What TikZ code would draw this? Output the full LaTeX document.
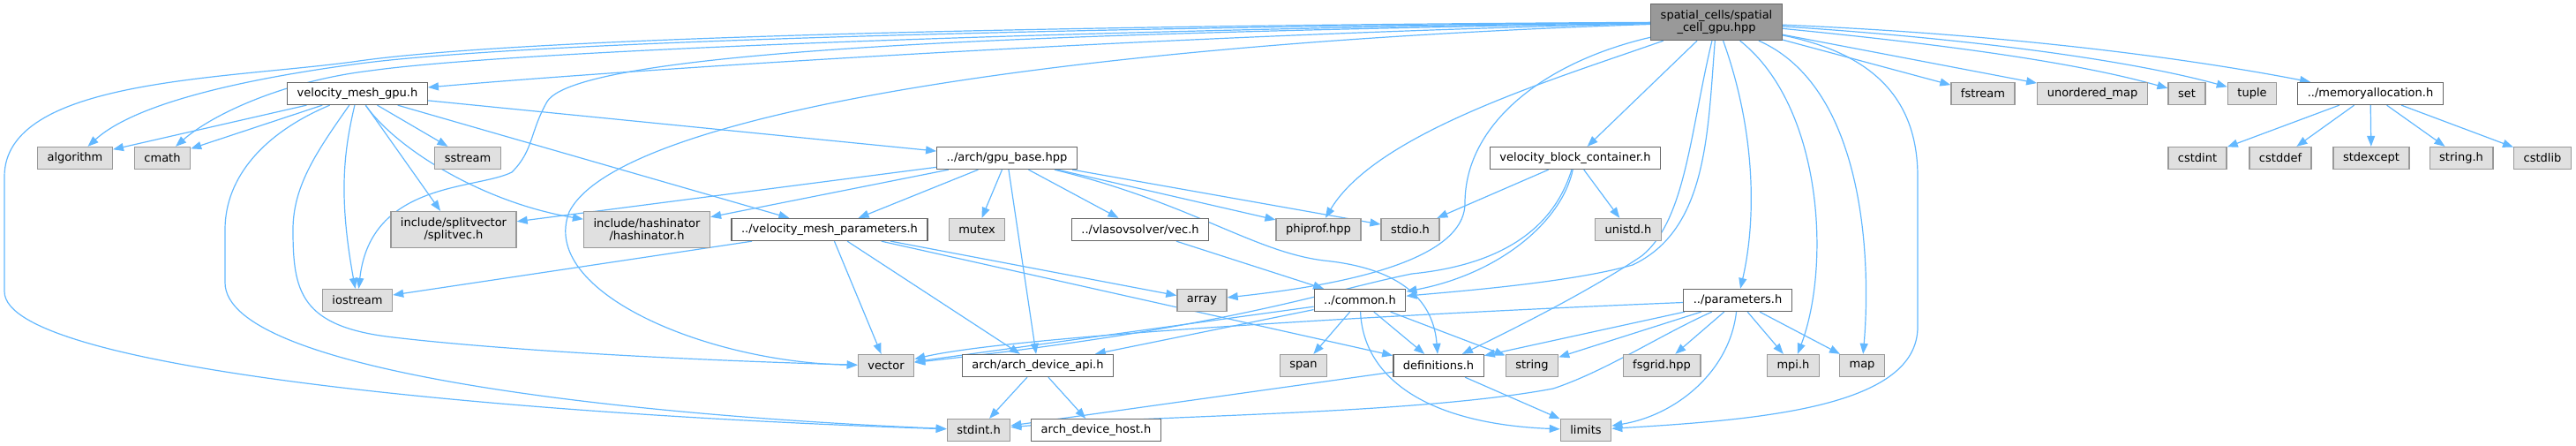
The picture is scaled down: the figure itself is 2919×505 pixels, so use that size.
\documentclass[tikz,border=0pt]{standalone}
\usepackage{fontspec}
\setmainfont{DejaVu Sans}
\usetikzlibrary{arrows.meta}
\definecolor{edgeblue}{HTML}{63B8FF}
\definecolor{frame}{HTML}{666666}
\definecolor{sysframe}{HTML}{999999}
\definecolor{sysfill}{HTML}{E0E0E0}
\definecolor{rootfill}{HTML}{999999}
\pgfdeclarelayer{background}
\pgfsetlayers{background,main}
\tikzset{
  file/.style={draw=frame, fill=white, line width=1.3pt, inner xsep=11pt, inner ysep=0pt,
    minimum height=25pt, font=\fontsize{13}{14.5}\selectfont},
  sysfile/.style={file, draw=sysframe, fill=sysfill},
  sysfile2/.style={sysfile, align=center, minimum height=41pt},
  root/.style={file, fill=rootfill, align=center, minimum height=41pt},
  dep/.style={draw=edgeblue, line width=1.2pt, -{Triangle[length=12pt,width=9pt]}}
}
\begin{document}
\begin{tikzpicture}[x=1pt,y=-1pt]
  \useasboundingbox (0,0) rectangle (2919,505);
  % files
  \node[root] (cellgpu) at (1945,25) {spatial\_cells/spatial\\\_cell\_gpu.hpp};
  \node[file] (meshgpu) at (405,106) {velocity\_mesh\_gpu.h};
  \node[sysfile] (fstream) at (2247,106) {fstream};
  \node[sysfile] (umap) at (2371,106) {unordered\_map};
  \node[sysfile] (set) at (2478,106) {set};
  \node[sysfile] (tuple) at (2552,106) {tuple};
  \node[file] (memalloc) at (2686,106) {../memoryallocation.h};

  \node[sysfile] (algorithm) at (85,179) {algorithm};
  \node[sysfile] (cmath) at (184,179) {cmath};
  \node[sysfile] (sstream) at (530,179) {sstream};
  \node[file] (gpubase) at (1141,179) {../arch/gpu\_base.hpp};
  \node[file] (blockcont) at (1785,179) {velocity\_block\_container.h};
  \node[sysfile] (cstdint) at (2490,179) {cstdint};
  \node[sysfile] (cstddef) at (2584,179) {cstddef};
  \node[sysfile] (stdexcept) at (2687,179) {stdexcept};
  \node[sysfile] (stringh) at (2789,179) {string.h};
  \node[sysfile] (cstdlib) at (2881,179) {cstdlib};

  \node[sysfile2] (splitvec) at (514,260) {include/splitvector\\/splitvec.h};
  \node[sysfile2] (hashinator) at (733,260) {include/hashinator\\/hashinator.h};
  \node[file] (meshparams) at (940,260) {../velocity\_mesh\_parameters.h};
  \node[sysfile] (mutex) at (1107,260) {mutex};
  \node[file] (vec) at (1292,260) {../vlasovsolver/vec.h};
  \node[sysfile] (phiprof) at (1494,260) {phiprof.hpp};
  \node[sysfile] (stdio) at (1598,260) {stdio.h};
  \node[sysfile] (unistd) at (1845,260) {unistd.h};

  \node[sysfile] (iostream) at (405,340) {iostream};
  \node[sysfile] (array) at (1362,340) {array};
  \node[file] (common) at (1541,340) {../common.h};
  \node[file] (params) at (1969,340) {../parameters.h};

  \node[sysfile] (vector) at (1004,414) {vector};
  \node[file] (devapi) at (1176,414) {arch/arch\_device\_api.h};
  \node[sysfile] (span) at (1477,414) {span};
  \node[file] (defs) at (1630,414) {definitions.h};
  \node[sysfile] (string) at (1736,414) {string};
  \node[sysfile] (fsgrid) at (1883,414) {fsgrid.hpp};
  \node[sysfile] (mpi) at (2032,414) {mpi.h};
  \node[sysfile] (map) at (2110,414) {map};

  \node[sysfile] (stdint) at (1109,487) {stdint.h};
  \node[file] (devhost) at (1242,487) {arch\_device\_host.h};
  \node[sysfile] (limits) at (1797,487) {limits};

  \begin{pgfonlayer}{background}
  % spatial_cell_gpu.hpp
  \draw[dep] (cellgpu) .. controls (1300,40) and (700,80) .. (meshgpu);
  \draw[dep] (cellgpu) .. controls (1300,30) and (600,45) .. (400,73) .. controls (260,92) and (150,120) .. (algorithm);
  \draw[dep] (cellgpu) .. controls (1300,32) and (600,55) .. (420,80) .. controls (320,92) and (240,130) .. (cmath);
  \draw[dep] (cellgpu) .. controls (1300,28) and (600,40) .. (400,70) .. controls (250,90) and (5,90) .. (5,200) -- (5,330) .. controls (5,420) and (600,470) .. (stdint);
  \draw[dep] (cellgpu) .. controls (1300,36) and (660,50) .. (620,115) .. controls (600,150) and (605,170) .. (580,195) .. controls (540,215) and (420,205) .. (iostream);
  \draw[dep] (cellgpu) .. controls (1200,50) and (700,130) .. (645,240) .. controls (610,330) and (800,410) .. (vector);
  \draw[dep] (cellgpu) .. controls (1760,90) and (1560,150) .. (phiprof);
  \draw[dep] (cellgpu) .. controls (1750,70) and (1660,140) .. (1660,230) .. controls (1660,300) and (1500,325) .. (array);
  \draw[dep] (cellgpu) -- (blockcont);
  \draw[dep] (cellgpu) .. controls (1935,150) and (1935,260) .. (1850,300) .. controls (1780,320) and (1650,330) .. (common);
  \draw[dep] (cellgpu) .. controls (1915,150) and (1910,250) .. (1860,290) .. controls (1800,330) and (1720,370) .. (defs);
  \draw[dep] (cellgpu) .. controls (1990,150) and (1990,250) .. (params);
  \draw[dep] (cellgpu) .. controls (2065,120) and (2075,300) .. (mpi);
  \draw[dep] (cellgpu) .. controls (2115,100) and (2120,300) .. (map);
  \draw[dep] (cellgpu) .. controls (2120,60) and (2173,110) .. (2173,200) -- (2173,370) .. controls (2173,460) and (2000,475) .. (limits);
  \draw[dep] (cellgpu) -- (fstream);
  \draw[dep] (cellgpu) -- (umap);
  \draw[dep] (cellgpu) .. controls (2200,50) and (2350,70) .. (set);
  \draw[dep] (cellgpu) .. controls (2250,45) and (2420,70) .. (tuple);
  \draw[dep] (cellgpu) .. controls (2300,40) and (2500,70) .. (memalloc);
  % velocity_mesh_gpu.h
  \draw[dep] (meshgpu) -- (algorithm);
  \draw[dep] (meshgpu) -- (cmath);
  \draw[dep] (meshgpu) -- (sstream);
  \draw[dep] (meshgpu) .. controls (300,150) and (255,200) .. (255,260) -- (255,320) .. controls (255,420) and (700,470) .. (stdint);
  \draw[dep] (meshgpu) .. controls (360,170) and (332,210) .. (332,260) .. controls (332,330) and (340,370) .. (446,382) .. controls (600,400) and (850,410) .. (vector);
  \draw[dep] (meshgpu) .. controls (390,170) and (383,220) .. (iostream);
  \draw[dep] (meshgpu) -- (splitvec);
  \draw[dep] (meshgpu) .. controls (450,170) and (550,230) .. (hashinator);
  \draw[dep] (meshgpu) -- (meshparams);
  \draw[dep] (meshgpu) -- (gpubase);
  % gpu_base.hpp
  \draw[dep] (gpubase) -- (splitvec);
  \draw[dep] (gpubase) -- (hashinator);
  \draw[dep] (gpubase) -- (meshparams);
  \draw[dep] (gpubase) -- (mutex);
  \draw[dep] (gpubase) -- (devapi);
  \draw[dep] (gpubase) -- (vec);
  \draw[dep] (gpubase) -- (phiprof);
  \draw[dep] (gpubase) -- (stdio);
  \draw[dep] (gpubase) .. controls (1350,230) and (1420,285) .. (1500,295) .. controls (1600,305) and (1625,350) .. (defs);
  % velocity_mesh_parameters.h
  \draw[dep] (meshparams) -- (iostream);
  \draw[dep] (meshparams) -- (vector);
  \draw[dep] (meshparams) -- (array);
  \draw[dep] (meshparams) -- (defs);
  \draw[dep] (meshparams) -- (devapi);
  \draw[dep] (vec) -- (common);
  % velocity_block_container.h
  \draw[dep] (blockcont) -- (stdio);
  \draw[dep] (blockcont) -- (unistd);
  \draw[dep] (blockcont) .. controls (1770,250) and (1700,310) .. (common);
  \draw[dep] (blockcont) .. controls (1760,260) and (1700,300) .. (1600,310) .. controls (1500,330) and (1400,370) .. (vector);
  % common.h
  \draw[dep] (common) -- (vector);
  \draw[dep] (common) -- (devapi);
  \draw[dep] (common) -- (span);
  \draw[dep] (common) -- (defs);
  \draw[dep] (common) -- (string);
  \draw[dep] (common) .. controls (1545,430) and (1620,480) .. (limits);
  % parameters.h
  \draw[dep] (params) .. controls (1600,355) and (1150,380) .. (vector);
  \draw[dep] (params) -- (defs);
  \draw[dep] (params) -- (string);
  \draw[dep] (params) -- (fsgrid);
  \draw[dep] (params) -- (mpi);
  \draw[dep] (params) -- (map);
  \draw[dep] (params) .. controls (1960,420) and (1900,470) .. (limits);
  \draw[dep] (params) .. controls (1880,380) and (1820,420) .. (1760,440) .. controls (1600,470) and (1300,470) .. (stdint);
  % definitions.h, arch_device_api.h
  \draw[dep] (defs) -- (stdint);
  \draw[dep] (defs) -- (limits);
  \draw[dep] (devapi) -- (stdint);
  \draw[dep] (devapi) -- (devhost);
  % memoryallocation.h
  \draw[dep] (memalloc) -- (cstdint);
  \draw[dep] (memalloc) -- (cstddef);
  \draw[dep] (memalloc) -- (stdexcept);
  \draw[dep] (memalloc) -- (stringh);
  \draw[dep] (memalloc) -- (cstdlib);
  \end{pgfonlayer}
\end{tikzpicture}
\end{document}
